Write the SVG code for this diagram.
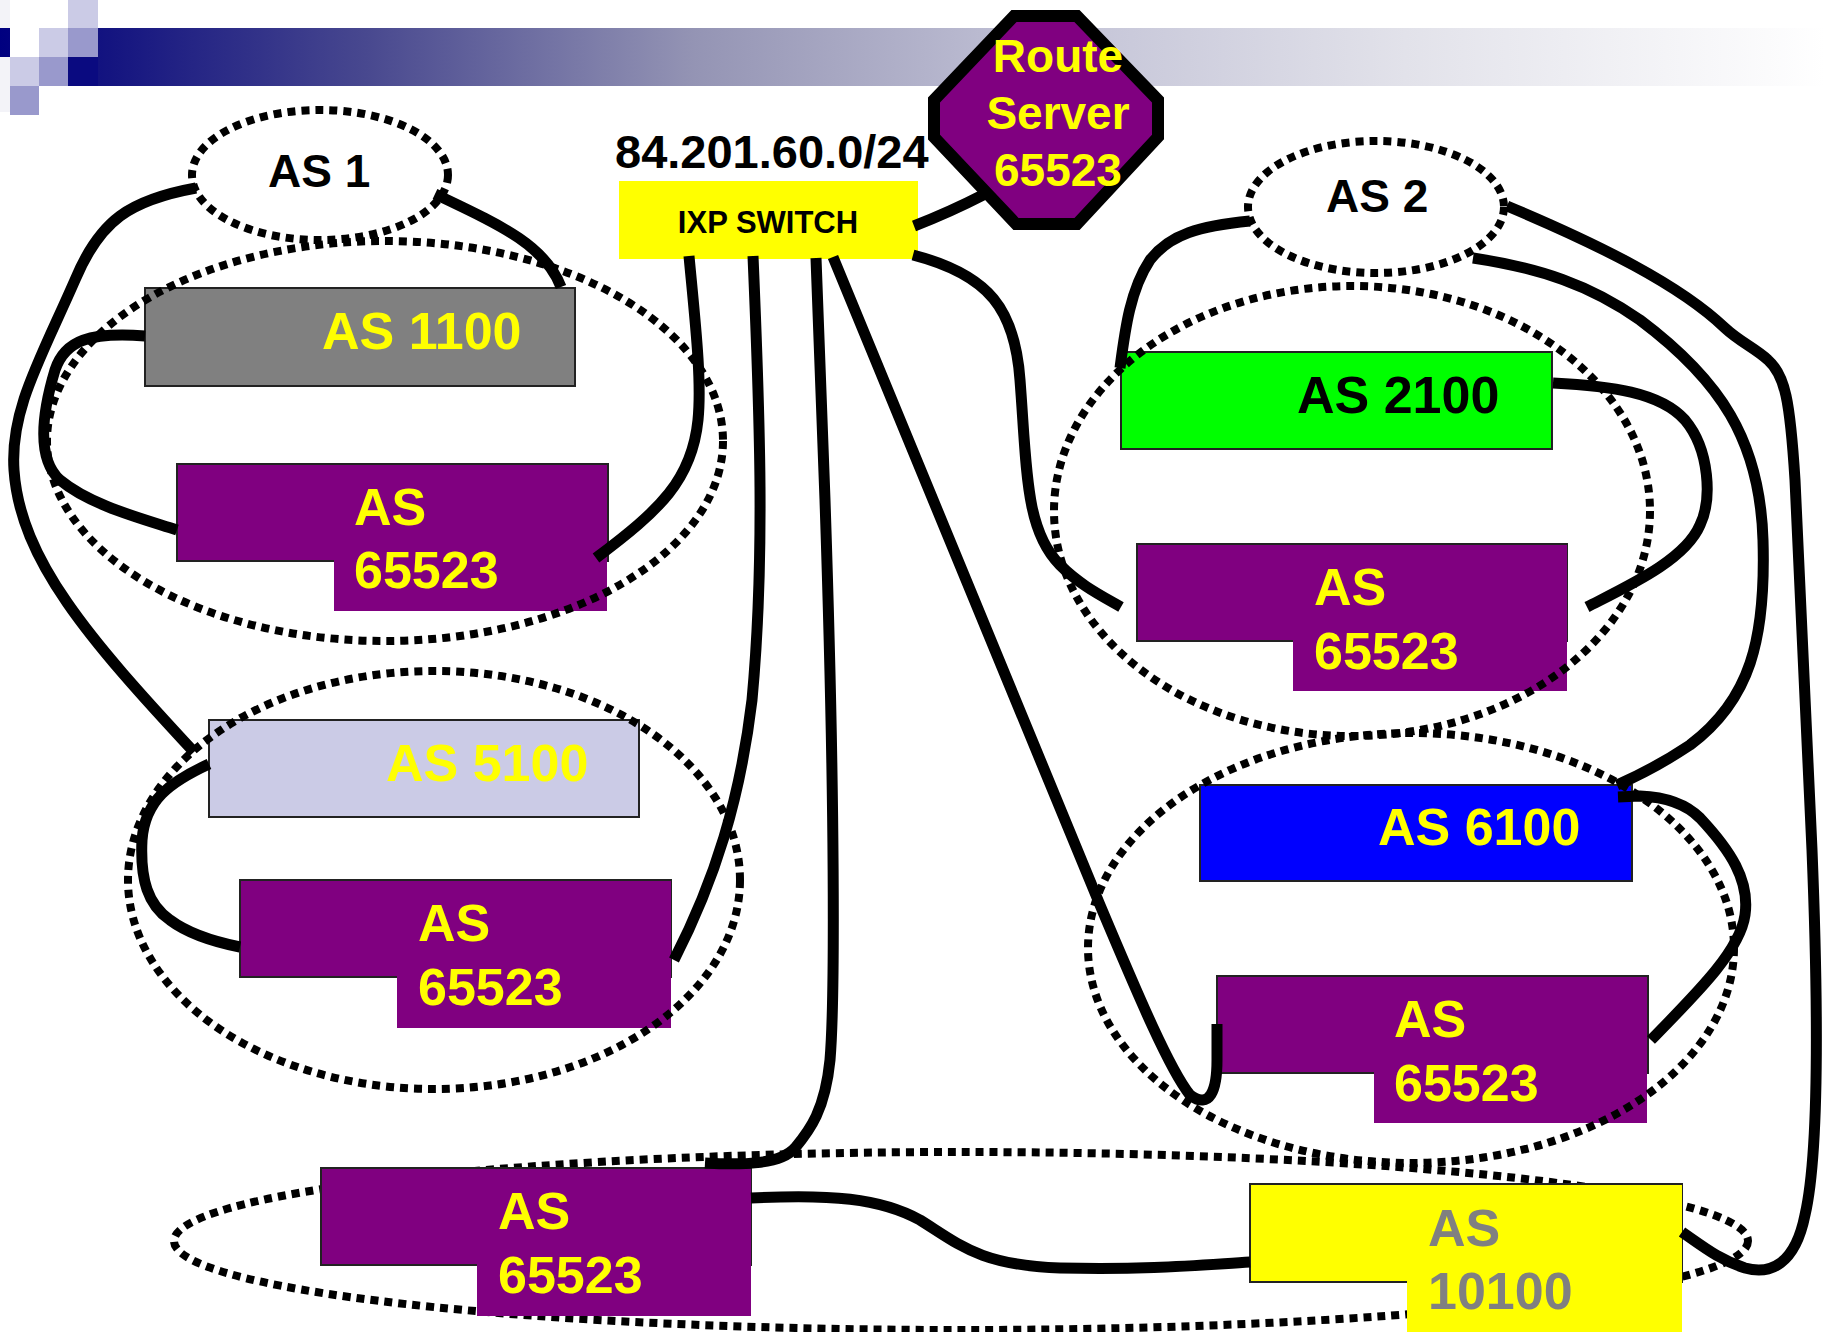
<svg xmlns="http://www.w3.org/2000/svg" width="1825" height="1332" viewBox="0 0 1825 1332">
<defs>
<linearGradient id="bar" x1="0" y1="0" x2="1825" y2="0" gradientUnits="userSpaceOnUse">
<stop offset="0" stop-color="#000080"/>
<stop offset="0.06" stop-color="#141480"/>
<stop offset="0.2" stop-color="#48488f"/>
<stop offset="0.38" stop-color="#9494b4"/>
<stop offset="0.57" stop-color="#c2c2d6"/>
<stop offset="0.77" stop-color="#e2e2ea"/>
<stop offset="1" stop-color="#ffffff"/>
</linearGradient>
</defs>
<style>
.t{font-family:"Liberation Sans",Arial,sans-serif;font-weight:bold}
.big{font-size:52px;fill:#ffff00}
.as{font-size:46px;fill:#000}
.dot{fill:none;stroke:#000;stroke-width:8;stroke-dasharray:8 6}
.ln{fill:none;stroke:#000;stroke-width:11}
.box{stroke:#222;stroke-width:2}
.pur{fill:#800080}
</style>
<rect width="1825" height="1332" fill="#fff"/>
<g id="header">
<rect x="0" y="0" width="10" height="112" fill="#f3f3f8"/>
<rect x="0" y="28" width="1825" height="58" fill="url(#bar)"/>
<rect x="0" y="57" width="10" height="29" fill="#f3f3f8"/>
<rect x="10" y="28" width="58" height="58" fill="#fff"/>
<rect x="68" y="57" width="30" height="29" fill="#0a0a80"/>
<rect x="68" y="0" width="30" height="28" fill="#cbcbe6"/>
<rect x="39" y="28" width="29" height="29" fill="#cbcbe6"/>
<rect x="68" y="28" width="30" height="29" fill="#9999cc"/>
<rect x="10" y="57" width="29" height="29" fill="#cbcbe6"/>
<rect x="39" y="57" width="29" height="29" fill="#9999cc"/>
<rect x="10" y="86" width="29" height="29" fill="#9999cc"/>
</g>

<g id="as1100"><rect class="box" x="145" y="288" width="430" height="98" fill="#808080"/><text class="t big" x="322" y="349">AS 1100</text></g>
<g id="as65523-a"><rect class="box pur" x="177" y="464" width="431" height="97"/><rect class="pur" x="334" y="465" width="273" height="146"/><text class="t big" x="354" y="525">AS</text><text class="t big" x="354" y="588">65523</text></g>
<g id="as5100"><rect class="box" x="209" y="720" width="430" height="97" fill="#cbcbe6"/><text class="t big" x="386" y="781">AS 5100</text></g>
<g id="as65523-b"><rect class="box pur" x="240" y="880" width="431" height="97"/><rect class="pur" x="397" y="881" width="274" height="147"/><text class="t big" x="418" y="941">AS</text><text class="t big" x="418" y="1005">65523</text></g>
<g id="as2100"><rect class="box" x="1121" y="352" width="431" height="97" fill="#00ff00"/><text class="t big" x="1297" y="413" style="fill:#000">AS 2100</text></g>
<g id="as65523-c"><rect class="box pur" x="1137" y="544" width="430" height="97"/><rect class="pur" x="1293" y="545" width="274" height="146"/><text class="t big" x="1314" y="605">AS</text><text class="t big" x="1314" y="669">65523</text></g>
<g id="as6100"><rect class="box" x="1200" y="785" width="432" height="96" fill="#0000ff"/><text class="t big" x="1378" y="845">AS 6100</text></g>
<g id="as65523-d"><rect class="box pur" x="1217" y="976" width="431" height="97"/><rect class="pur" x="1374" y="977" width="273" height="146"/><text class="t big" x="1394" y="1037">AS</text><text class="t big" x="1394" y="1101">65523</text></g>

<g id="groups">
<ellipse class="dot" cx="320" cy="175" rx="128" ry="65"/>
<ellipse class="dot" cx="385" cy="441" rx="338" ry="200"/>
<ellipse class="dot" cx="434" cy="880" rx="306" ry="209"/>
<ellipse class="dot" cx="1376" cy="207" rx="128" ry="66"/>
<ellipse class="dot" cx="1352" cy="511" rx="298" ry="225"/>
<ellipse class="dot" cx="1411" cy="948" rx="323" ry="215"/>
<ellipse class="dot" cx="961" cy="1241" rx="787" ry="89"/>
</g>

<g id="as65523-e"><rect class="box pur" x="321" y="1168" width="430" height="97"/><rect class="pur" x="477" y="1169" width="274" height="147"/><text class="t big" x="498" y="1229">AS</text><text class="t big" x="498" y="1293">65523</text></g>
<g id="as10100"><rect class="box" x="1250" y="1184" width="432" height="98" fill="#ffff00"/><rect x="1407" y="1185" width="275" height="147" fill="#ffff00"/><text class="t big" x="1428" y="1246" style="fill:#808080">AS</text><text class="t big" x="1428" y="1309" style="fill:#808080">10100</text></g>

<g id="as1"><text class="t as" x="268" y="187">AS 1</text></g>
<g id="as2"><text class="t as" x="1326" y="212">AS 2</text></g>

<g id="ixp"><text class="t" x="615" y="168" font-size="47" fill="#000">84.201.60.0/24</text><rect x="619" y="181" width="299" height="78" fill="#ffff00"/><text class="t" x="768" y="233" font-size="31" fill="#000" text-anchor="middle">IXP SWITCH</text></g>

<g id="routeserver"><polygon points="1014,16 1077,16 1158,100 1158,137 1077,224 1016,224 934,137 934,100" fill="#800080" stroke="#000" stroke-width="12" stroke-linejoin="miter"/><text class="t" x="1058" y="72" font-size="46" fill="#ffff00" text-anchor="middle">Route</text><text class="t" x="1058" y="129" font-size="46" fill="#ffff00" text-anchor="middle">Server</text><text class="t" x="1058" y="186" font-size="46" fill="#ffff00" text-anchor="middle">65523</text></g>

<g id="connectors">
<path class="ln" d="M 914 226 Q 950 212 983 195"/>
<path class="ln" d="M 196 188 C 130 200 100 220 75 280 C 40 360 10 410 14 470 C 20 560 90 640 194 752"/>
<path class="ln" d="M 435 194 C 500 225 545 245 561 287"/>
<path class="ln" d="M 145 336 C 90 332 65 340 55 370 C 40 420 38 460 60 480 C 90 505 140 518 177 530"/>
<path class="ln" d="M 689 256 C 695 320 702 380 698 420 C 692 480 660 510 596 558"/>
<path class="ln" d="M 209 764 C 170 782 145 800 142 840 C 140 880 148 905 170 920 C 190 935 215 942 240 947"/>
<path class="ln" d="M 753 256 C 760 420 765 560 752 700 C 740 800 715 880 674 960"/>
<path class="ln" d="M 816 258 L 825 500 C 835 800 835 1000 830 1060 C 825 1110 810 1130 795 1148 C 780 1165 740 1165 705 1163"/>
<path class="ln" d="M 833 257 L 1100 905 C 1140 1000 1170 1070 1190 1095 C 1210 1110 1217 1090 1217 1060 L 1217 1024"/>
<path class="ln" d="M 913 255 C 990 275 1015 310 1020 380 C 1027 470 1025 530 1060 565 C 1080 585 1100 595 1121 607"/>
<path class="ln" d="M 1250 221 C 1200 226 1170 234 1150 260 C 1130 290 1125 330 1120 368"/>
<path class="ln" d="M 1553 383 C 1610 386 1660 392 1685 420 C 1710 450 1712 500 1700 525 C 1685 560 1630 585 1587 607"/>
<path class="ln" d="M 1473 258 C 1540 268 1590 285 1640 320 C 1720 380 1760 440 1763 540 C 1766 640 1750 700 1690 745 C 1660 765 1640 775 1617 785"/>
<path class="ln" d="M 1507 206 C 1600 245 1680 285 1725 328 C 1740 342 1755 348 1768 360 C 1785 375 1790 400 1795 480 L 1812 850 C 1818 1000 1820 1150 1805 1215 C 1795 1265 1770 1275 1745 1268 C 1720 1260 1705 1248 1682 1232"/>
<path class="ln" d="M 1618 797 L 1640 796 C 1665 797 1685 803 1700 818 C 1730 850 1750 880 1745 915 C 1740 950 1700 990 1651 1040"/>
<path class="ln" d="M 751 1198 C 830 1194 880 1198 920 1220 C 960 1245 980 1265 1060 1268 C 1150 1270 1200 1265 1250 1262"/>
</g>
</svg>
